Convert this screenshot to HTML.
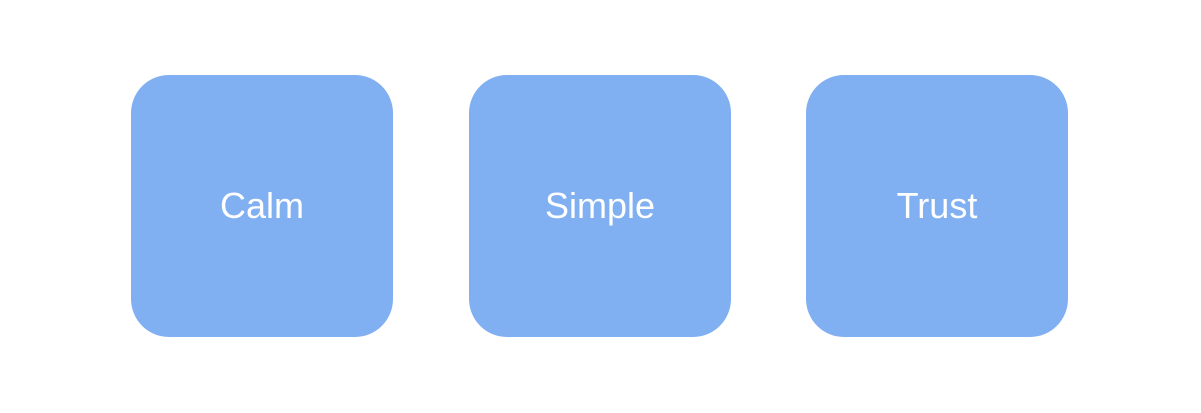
<!DOCTYPE html>
<html><head><style>
html,body{margin:0;padding:0;background:#fff;width:1201px;height:413px;overflow:hidden}
.b{position:absolute;top:75px;width:262px;height:262px;border-radius:38px;background:#80b0f2;color:#fff;font-family:"Liberation Sans",sans-serif;font-size:36px;display:flex;align-items:center;justify-content:center;line-height:1}
</style></head><body>
<div class="b" style="left:131px">Calm</div>
<div class="b" style="left:469px">Simple</div>
<div class="b" style="left:806px">Trust</div>
</body></html>
